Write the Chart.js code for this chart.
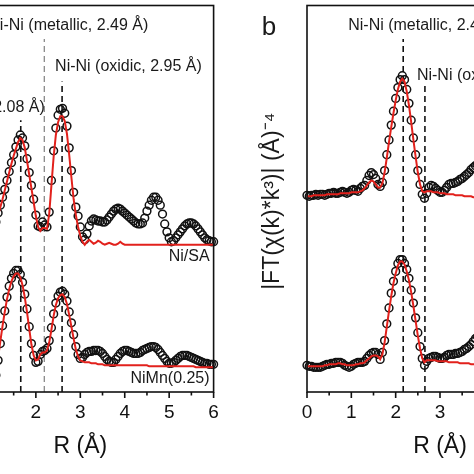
<!DOCTYPE html>
<html>
<head>
<meta charset="utf-8">
<script src="https://cdn.jsdelivr.net/npm/chart.js@4.4.1/dist/chart.umd.min.js"></script>
<style>
  html, body { margin: 0; padding: 0; background: #fff; }
  body { width: 474px; height: 474px; overflow: hidden; position: relative; }
  canvas { position: absolute; top: 0; }
  #leftChart { left: -73px; }
  #rightChart { left: 240px; }
</style>
</head>
<body>
<canvas id="leftChart" width="307" height="474"></canvas>
<canvas id="rightChart" width="353" height="474"></canvas>
<script>
const FONT = '"Liberation Sans", Arial, sans-serif'
const RED = '#e2211c'
const step = 0.05

// panel a: R grid starts at 1.10 (the part left of that is cut off)
const leftStart = 1.1
const leftTopExp = [172,181,189,197,205,214,223,232,240,248,
  255,260,257,249,236,222,209,195,179,168,
  167,172,169,167,182,214,244,267,280,286,
  287,282,269,247,224,202,187,178,167,157,
  154,160,168,173,175,174,173,173,172,172,
  174,177,180,183,185,186,185,183,181,179,
  177,175,173,171,170,170,171,176,183,189,
  194,197,197,194,189,180,170,162,156,152,
  153,156,159,162,165,168,170,171,171,170,
  168,165,162,159,156,154,153,152,152]
const leftTopFit = [170,179,187,195,204,213,222,231,239,246,
  253,257,255,247,234,220,206,192,178,167,
  163,166,166,165,180,209,238,260,273,279,
  279,274,261,240,217,195,179,167,158,152,
  149,152,154,152,150,151,153,152,150,149,
  150,151,150,149,149,150,152,150,149,149,
  149,149,149,149,149,149,149,149,149,149,
  149,149,149,149,149,149,149,149,149,149,
  149,149,149,149,149,149,149,149,149,149,
  149,149,149,149,149,149,149,149,149]
const leftBotExp = [17,32,49,67,82,96,107,115,120,123,
  123,119,111,99,84,66,49,37,30,31,
  38,41,42,44,52,65,79,90,97,101,
  102,99,92,81,70,58,46,38,34,35,
  38,40,41,41,42,42,42,41,39,36,
  33,31,30,30,33,36,39,41,42,42,
  41,40,39,39,39,40,42,43,44,45,
  46,46,45,43,40,37,34,31,29,29,
  30,32,34,36,37,37,37,36,35,34,
  33,32,31,30,29,29,28,28,28]
const leftBotFit = [20,35,51,67,81,94,104,112,117,120,
  120,116,108,96,81,64,48,37,32,33,
  38,40,40,42,50,63,77,88,95,98,
  99,96,89,78,66,54,43,36,32,31,
  30,30,30,29,29,29,28,28,28,27,
  27,27,27,27,27,27,27,27,27,27,
  27,27,27,27,27,27,27,27,27,26,
  26,26,26,26,26,26,26,26,26,26,
  26,26,26,26,26,26,26,26,26,26,
  25,25,25,25,25,25,25,25,25]

// panel b: R grid from 0
const rightStart = 0
const rightTopExp = [199,198,199,199,200,199,200,200,199,200,
  201,201,202,201,201,202,203,202,201,202,
  204,205,204,203,206,208,209,214,219,222,
  220,216,210,208,212,224,240,255,270,284,
  297,308,316,320,316,306,292,275,257,240,
  224,210,200,196,201,207,209,208,206,204,
  202,202,204,207,210,211,211,212,213,215,
  216,218,220,222,225,227,229,230]
const rightTopFit = [198,198,198,199,199,199,199,199,199,200,
  200,200,200,200,200,201,201,201,201,201,
  202,202,202,202,203,204,206,209,212,214,
  213,210,207,207,211,222,237,253,268,282,
  295,306,314,317,314,304,290,273,255,238,
  222,210,203,202,203,203,203,202,202,202,
  201,201,201,200,200,200,200,199,199,199,
  199,198,198,198,198,197,197,197]
const rightBotExp = [27,26,26,25,25,25,25,26,27,28,
  28,29,29,30,30,30,29,27,26,25,
  26,28,29,30,30,30,31,34,37,39,
  40,40,38,33,40,52,69,85,100,112,
  122,130,134,134,130,124,115,103,90,75,
  60,46,34,27,31,34,35,36,36,35,
  34,34,35,37,38,38,38,39,39,40,
  41,43,44,46,48,51,54,56]
const rightBotFit = [26,26,26,26,26,26,26,26,27,27,
  28,28,28,28,29,29,28,28,27,27,
  27,27,28,28,29,29,30,32,34,36,
  37,37,36,33,38,50,66,82,97,110,
  120,128,132,132,129,122,113,101,87,72,
  57,44,34,30,32,32,32,32,32,31,
  31,31,31,31,30,30,30,30,30,29,
  29,29,29,29,28,28,28,28]

// reference bond distances (R, Å) for the dashed markers
const leftMarkers = [1.66, 2.19, 2.59]
const rightMarkers = [2.17, 2.66]
const xTicks = [0, 1, 2, 3, 4, 5, 6]

const toPoints = (start, ys) => ys.map((y, i) => ({ x: +(start + i * step).toFixed(2), y: y }))

const expSet = (start, ys) => ({
  type: 'scatter',
  data: toPoints(start, ys),
  showLine: false,
  pointStyle: 'circle',
  pointRadius: 3.9,
  pointBorderWidth: 1.5,
  borderColor: '#111',
  backgroundColor: 'rgba(0,0,0,0)',
  clip: false,
  order: 2,
})

const fitSet = (start, ys) => ({
  type: 'line',
  data: toPoints(start, ys),
  borderColor: RED,
  borderWidth: 2,
  pointRadius: 0,
  tension: 0,
  fill: false,
  order: 1,
})

const dashSet = (r, top, color, width) => ({
  type: 'line',
  data: [{ x: r, y: 0 }, { x: r, y: top }],
  borderColor: color,
  borderWidth: width,
  borderDash: [6, 4],
  pointRadius: 0,
  order: 3,
})

// frame, ticks and text labels
const framePlugin = {
  id: 'frame',
  afterDatasetsDraw(chart, args, opts) {
    const { ctx, chartArea: a } = chart
    const x = chart.scales.x
    const y = chart.scales.y
    ctx.save()
    ctx.strokeStyle = '#111'
    ctx.lineWidth = 1.6
    ctx.strokeRect(a.left, a.top, a.right - a.left, a.bottom - a.top)
    for (let i = 0; i < xTicks.length; i++) {
      const v = xTicks[i]
      let px = x.getPixelForValue(v)
      ctx.beginPath(); ctx.moveTo(px, a.bottom); ctx.lineTo(px, a.bottom + 6); ctx.stroke()
      if (i < xTicks.length - 1) {
        px = x.getPixelForValue(v + 0.5)
        ctx.beginPath(); ctx.moveTo(px, a.bottom); ctx.lineTo(px, a.bottom + 3.5); ctx.stroke()
      }
    }
    ctx.fillStyle = '#1a1a1a'
    ctx.textBaseline = 'middle'
    for (const t of opts.texts || []) {
      ctx.font = (t.size || 16) + 'px ' + FONT
      ctx.textAlign = t.align || 'left'
      const px = t.r !== undefined ? x.getPixelForValue(t.r) + t.dx : a.left + t.dx
      const py = y.getPixelForValue(t.h)
      if (t.rotate) {
        ctx.save()
        ctx.translate(px, py)
        ctx.rotate(-Math.PI / 2)
        ctx.fillText(t.text, 0, 0)
        ctx.restore()
      } else {
        ctx.fillText(t.text, px, py)
      }
    }
    ctx.restore()
  }
}

const makeOptions = (padLeft, padRight, texts) => ({
  responsive: false,
  animation: false,
  devicePixelRatio: 1,
  layout: { padding: { left: padLeft, right: padRight, top: 1, bottom: 0 } },
  plugins: { legend: { display: false }, tooltip: { enabled: false }, frame: { texts: texts } },
  scales: {
    x: {
      type: 'linear', min: 0, max: 6,
      border: { display: false },
      grid: { display: false, drawTicks: false },
      ticks: { stepSize: 1, color: '#111', font: { family: FONT, size: 19 }, padding: 9, maxRotation: 0 },
      title: { display: true, text: 'R (Å)', color: '#111', font: { family: FONT, size: 23 }, padding: { top: 0, bottom: 14 } },
      afterFit: (s) => { s.height = 82 },
    },
    y: { display: false, min: 0, max: 391 },
  },
})

new Chart('leftChart', {
  type: 'scatter',
  data: {
    datasets: [
      fitSet(leftStart, leftTopFit),
      fitSet(leftStart, leftBotFit),
      expSet(leftStart, leftTopExp),
      expSet(leftStart, leftBotExp),
      dashSet(leftMarkers[0], 275, '#111', 1.6),
      dashSet(leftMarkers[1], 357, '#888', 1.3),
      dashSet(leftMarkers[2], 314, '#111', 1.6),
    ],
  },
  options: makeOptions(20, 20.4, [
    { text: 'Ni-O (2.08 Å)', r: leftMarkers[0], dx: 24, h: 288, align: 'right' },
    { text: 'Ni-Ni (metallic, 2.49 Å)', r: leftMarkers[1], dx: -56, h: 371 },
    { text: 'Ni-Ni (oxidic, 2.95 Å)', r: leftMarkers[2], dx: -7, h: 329 },
    { text: 'Ni/SA', r: 6, dx: -4, h: 137, align: 'right' },
    { text: 'NiMn(0.25)', r: 6, dx: -4, h: 14, align: 'right' },
  ]),
  plugins: [framePlugin],
})

new Chart('rightChart', {
  type: 'scatter',
  data: {
    datasets: [
      fitSet(rightStart, rightTopFit),
      fitSet(rightStart, rightBotFit),
      expSet(rightStart, rightTopExp),
      expSet(rightStart, rightBotExp),
      dashSet(rightMarkers[0], 357, '#111', 1.6),
      dashSet(rightMarkers[1], 312, '#111', 1.6),
    ],
  },
  options: makeOptions(67, 20, [
    { text: 'Ni-Ni (metallic, 2.49 Å)', r: rightMarkers[0], dx: -55, h: 371 },
    { text: 'Ni-Ni (oxidic, 2.95 Å)', r: rightMarkers[1], dx: -8, h: 320 },
    { text: 'b', dx: -38, h: 368, size: 26, align: 'center' },
    { text: '|FT(χ(k)*k³)| (Å)⁻⁴', dx: -34, h: 193, size: 23, align: 'center', rotate: true },
  ]),
  plugins: [framePlugin],
})
</script>
</body>
</html>
